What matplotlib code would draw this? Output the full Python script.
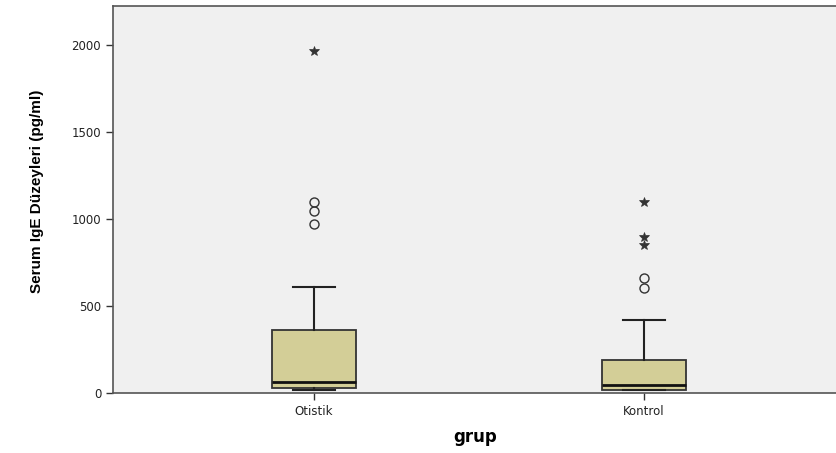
import matplotlib
matplotlib.use("Agg")
import matplotlib.pyplot as plt
from matplotlib import font_manager

groups = ["Otistik", "Kontrol"]
q1 = [30, 19]
median = [63, 46]
q3 = [362, 190]
whislo = [17, 15]
whishi = [611, 418]
outliers_circle = [[972, 1048, 1100], [605, 660]]
outliers_star = [[1968], [851, 899, 1098]]

names = {f.name for f in font_manager.fontManager.ttflist}
narrow = "Liberation Sans Narrow" if "Liberation Sans Narrow" in names else "Liberation Sans"

fig = plt.figure(figsize=(8.37, 4.53), dpi=100)
ax = fig.add_axes([113/837, 60/453, 1 - 113/837, 387/453])
ax.set_facecolor("#F0F0F0")

stats = []
for i, g in enumerate(groups):
    stats.append(dict(label=g, q1=q1[i], med=median[i], q3=q3[i],
                      whislo=whislo[i], whishi=whishi[i], fliers=[]))
pos = [1, 2]
ax.bxp(stats, positions=pos, widths=0.255, patch_artist=True, showfliers=False,
       boxprops=dict(facecolor="#D3CE97", edgecolor="#333333", linewidth=1.3),
       medianprops=dict(color="#111111", linewidth=2),
       whiskerprops=dict(color="#222222", linewidth=1.5),
       capprops=dict(color="#222222", linewidth=1.5),
       capwidths=0.128)

for i in range(len(groups)):
    ax.plot([pos[i]] * len(outliers_circle[i]), outliers_circle[i], linestyle="none",
            marker="o", mfc="none", mec="#333333", ms=6.5, mew=1.0)
    ax.plot([pos[i]] * len(outliers_star[i]), outliers_star[i], linestyle="none",
            marker="*", color="#333333", ms=7, mew=0.5)

ax.set_xlim(0.391, 2.585)
ax.set_ylim(0, 2225)
ax.set_yticks([0, 500, 1000, 1500, 2000])
ax.set_xticks(pos)
ax.set_xticklabels(groups)
ax.tick_params(axis="both", labelsize=8.5, length=5, width=1, color="#333333", labelcolor="#222222")
for s in ["left", "bottom", "top"]:
    ax.spines[s].set_color("#555555")
    ax.spines[s].set_linewidth(1.2)
ax.spines["right"].set_visible(False)

ax.set_ylabel("Serum IgE Düzeyleri (pg/ml)", family=[narrow, "DejaVu Sans"],
              fontsize=11, fontweight="bold")
ax.yaxis.set_label_coords(-0.095, 0.52)
ax.set_xlabel("grup", fontsize=12, fontweight="bold")
ax.xaxis.set_label_coords((475 - 113) / (837 - 113), -0.09)

fig.savefig("out.png", dpi=100)
